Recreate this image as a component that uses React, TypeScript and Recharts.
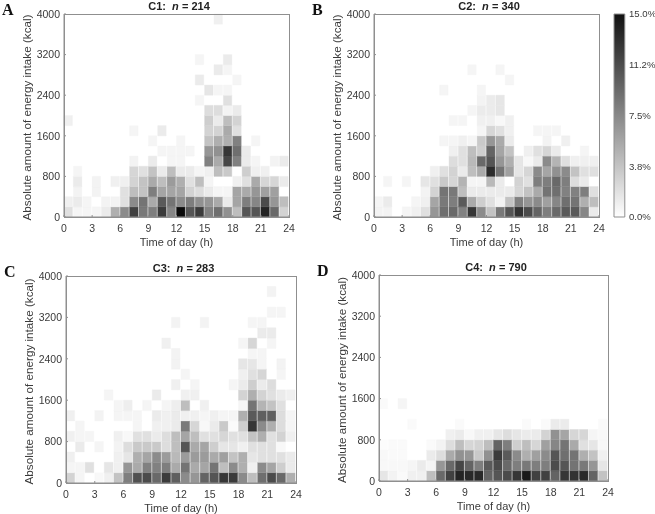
import { Bar, BarChart, Cell, XAxis, YAxis } from "recharts";

// lower edge of every 200 kcal bin, and the hour of every column
const energyBins = [0, 200, 400, 600, 800, 1000, 1200, 1400, 1600, 1800, 2000, 2200, 2400, 2600, 2800, 3000, 3200, 3400, 3600, 3800];
const hours = [0, 1, 2, 3, 4, 5, 6, 7, 8, 9, 10, 11, 12, 13, 14, 15, 16, 17, 18, 19, 20, 21, 22, 23];
const hourTicks = [0, 3, 6, 9, 12, 15, 18, 21, 24];
const energyTicks = [0, 800, 1600, 2400, 3200, 4000];
const scaleTicks = [0, 3.75, 7.5, 11.25, 15];
const scaleLabels = ["0.0%", "3.8%", "7.5%", "11.2%", "15.0%"];

// percent of meals per bin, first row is the 0-200 kcal bin
const c1Percent = [
  [1.8, 0.6, 0.6, 0.6, 1.2, 4.7, 6.8, 11.2, 7.9, 7.6, 11.5, 7.1, 14.4, 10, 11.5, 7.4, 8.5, 6.5, 3.8, 10, 10, 12.9, 8.8, 2.6],
  [0.9, 1.2, 0.6, 0, 0.7, 0.7, 1.8, 6.8, 8.2, 5, 9.7, 8.2, 6.8, 7.6, 6.5, 6.2, 5, 1.2, 5.3, 7.6, 7.1, 10.6, 6.2, 3.8],
  [0, 0.7, 0, 0.7, 0, 0, 1.8, 3.8, 3.5, 7.6, 5.3, 5.3, 5.3, 2.6, 2, 1.2, 0.6, 0.6, 5.3, 5, 6.2, 5.6, 5.6, 0],
  [0, 1.2, 0, 0.7, 0, 0.9, 0.9, 2.6, 3.5, 5, 3.8, 5.9, 4.7, 1.8, 3.8, 0.6, 0, 0, 0.9, 1.8, 5, 2.4, 2.4, 1.2],
  [0, 0.6, 0, 0, 0, 0, 0, 2.4, 1.8, 3.5, 1.2, 3.8, 1.2, 1.2, 0.6, 0.9, 3.8, 3.2, 0, 2.9, 0.9, 0.9, 0, 0],
  [0, 0, 0, 0, 0, 0, 0, 0.7, 0, 1.2, 0, 0.6, 0.6, 0, 0, 7.4, 5, 10.9, 7.4, 1.2, 0.6, 0, 0.7, 1.2],
  [0, 0, 0, 0, 0, 0, 0, 0, 0, 0, 0.6, 0.6, 0.6, 0.6, 0, 6.2, 6.5, 11.8, 8.5, 1.2, 0, 0, 0, 0],
  [0, 0, 0, 0, 0, 0, 0, 0, 0, 0.6, 0, 0, 0.6, 0, 0, 3.5, 4.7, 4.7, 7.4, 0, 0.6, 0, 0, 0],
  [0, 0, 0, 0, 0, 0, 0, 0.6, 0, 0, 1.2, 0, 0, 0, 0, 2.6, 2.6, 5, 1.8, 0, 0, 0, 0, 0],
  [0.9, 0, 0, 0, 0, 0, 0, 0, 0, 0, 0, 0, 0, 0, 0, 2.9, 1.2, 3.8, 2.6, 0, 0, 0, 0, 0],
  [0, 0, 0, 0, 0, 0, 0, 0, 0, 0, 0, 0, 0, 0, 0, 2, 2, 0.7, 1.2, 0, 0, 0, 0, 0],
  [0, 0, 0, 0, 0, 0, 0, 0, 0, 0, 0, 0, 0, 0, 0.6, 0, 0, 1.8, 0, 0, 0, 0, 0, 0],
  [0, 0, 0, 0, 0, 0, 0, 0, 0, 0, 0, 0, 0, 0, 0, 1.5, 0.6, 0.6, 0, 0, 0, 0, 0, 0],
  [0, 0, 0, 0, 0, 0, 0, 0, 0, 0, 0, 0, 0, 0, 1.2, 0, 0, 0, 0.6, 0, 0, 0, 0, 0],
  [0, 0, 0, 0, 0, 0, 0, 0, 0, 0, 0, 0, 0, 0, 0, 0, 1.2, 0.6, 0, 0, 0, 0, 0, 0],
  [0, 0, 0, 0, 0, 0, 0, 0, 0, 0, 0, 0, 0, 0, 0.6, 0, 0, 1.2, 0, 0, 0, 0, 0, 0],
  [0, 0, 0, 0, 0, 0, 0, 0, 0, 0, 0, 0, 0, 0, 0, 0, 0, 0, 0, 0, 0, 0, 0, 0],
  [0, 0, 0, 0, 0, 0, 0, 0, 0, 0, 0, 0, 0, 0, 0, 0, 0, 0, 0, 0, 0, 0, 0, 0],
  [0, 0, 0, 0, 0, 0, 0, 0, 0, 0, 0, 0, 0, 0, 0, 0, 0, 0, 0, 0, 0, 0, 0, 0],
  [0, 0, 0, 0, 0, 0, 0, 0, 0, 0, 0, 0, 0, 0, 0, 0, 0.9, 0, 0, 0, 0, 0, 0, 0],
];

const c2Percent = [
  [0.7, 0.7, 0, 0.6, 0.9, 1.8, 6.2, 8.5, 8.8, 7.4, 11.8, 6.8, 3.5, 7.9, 10, 12, 10.6, 9.1, 7.6, 8.8, 9.7, 9.7, 7.1, 1.2],
  [0.6, 1.2, 0, 0, 0.6, 0.9, 5.3, 7.9, 7.6, 9.7, 5, 2.9, 1.8, 0.7, 3.5, 7.4, 6.2, 6.8, 5.6, 7.1, 8.5, 8.2, 4.7, 3.8],
  [0, 0, 0, 0, 0, 0.7, 2.6, 8.2, 7.9, 3.8, 1.2, 1.2, 1.2, 1.2, 1.2, 2.4, 3.5, 5, 8.2, 8.5, 7.4, 7.4, 7.6, 1.8],
  [0, 0.6, 0, 0.6, 0, 1.5, 1.8, 3.2, 2.4, 4.4, 0.6, 0.6, 4.1, 1.2, 0, 2.6, 1.8, 7.6, 7.6, 8.8, 7.6, 2, 1.2, 0],
  [0, 0, 0, 0, 0, 0, 0.9, 1.8, 2.6, 1.2, 3.8, 5, 12.4, 8.2, 5.6, 1.5, 2.4, 6.8, 5.3, 6.5, 6.8, 3.5, 1.8, 1.8],
  [0, 0, 0, 0, 0, 0, 0, 0, 2, 1.8, 4.1, 8.8, 10, 6.2, 4.7, 1.5, 0.4, 1.2, 6.8, 4.4, 1.8, 0.9, 0.9, 0.9],
  [0, 0, 0, 0, 0, 0, 0, 0, 0.9, 1.8, 3.8, 2.9, 9.1, 5.3, 3.5, 0, 0.9, 1.8, 2.4, 1.2, 0, 0, 0.6, 0],
  [0, 0, 0, 0, 0, 0, 0, 0.6, 0.6, 0.9, 0.6, 3.2, 6.2, 5, 1.2, 0, 0, 0, 0.7, 0, 0.9, 0, 0, 0],
  [0, 0, 0, 0, 0, 0, 0, 0, 0, 0, 0, 0.6, 2.4, 1.8, 0.9, 0, 0, 0.6, 0.6, 0.6, 0, 0, 0, 0],
  [0, 0, 0, 0, 0, 0, 0, 0, 0.6, 0.6, 0, 0.9, 0.9, 0.4, 0.9, 0, 0, 0, 0, 0, 0, 0, 0, 0],
  [0, 0, 0, 0, 0, 0, 0, 0, 0, 0, 0.6, 1.2, 1.2, 1.5, 0, 0, 0, 0, 0, 0, 0, 0, 0, 0],
  [0, 0, 0, 0, 0, 0, 0, 0, 0, 0, 0, 0.7, 1.2, 1.5, 0, 0, 0, 0, 0, 0, 0, 0, 0, 0],
  [0, 0, 0, 0, 0, 0, 0, 0.6, 0, 0, 0, 0.6, 0, 0, 0, 0, 0, 0, 0, 0, 0, 0, 0, 0],
  [0, 0, 0, 0, 0, 0, 0, 0, 0, 0, 0, 0, 0, 0, 0.6, 0, 0, 0, 0, 0, 0, 0, 0, 0],
  [0, 0, 0, 0, 0, 0, 0, 0, 0, 0, 0.6, 0, 0, 0.6, 0, 0, 0, 0, 0, 0, 0, 0, 0, 0],
  [0, 0, 0, 0, 0, 0, 0, 0, 0, 0, 0, 0, 0, 0, 0, 0, 0, 0, 0, 0, 0, 0, 0, 0],
  [0, 0, 0, 0, 0, 0, 0, 0, 0, 0, 0, 0, 0, 0, 0, 0, 0, 0, 0, 0, 0, 0, 0, 0],
  [0, 0, 0, 0, 0, 0, 0, 0, 0, 0, 0, 0, 0, 0, 0, 0, 0, 0, 0, 0, 0, 0, 0, 0],
  [0, 0, 0, 0, 0, 0, 0, 0, 0, 0, 0, 0, 0, 0, 0, 0, 0, 0, 0, 0, 0, 0, 0, 0],
  [0, 0, 0, 0, 0, 0, 0, 0, 0, 0, 0, 0, 0, 0, 0, 0, 0, 0, 0, 0, 0, 0, 0, 0],
];

const c3Percent = [
  [2.6, 0.6, 0, 0.4, 0.9, 3.5, 7.6, 10.3, 10.6, 8.8, 11.5, 9.4, 6.8, 6.2, 9.1, 10, 11.8, 11.5, 6.8, 3.8, 8.5, 10.6, 8.8, 4.7],
  [0.6, 0.6, 1.8, 0, 1.5, 0.9, 6.2, 5, 7.4, 7.4, 7.6, 5, 8.2, 5, 5.3, 8.2, 3.8, 6.8, 4.7, 0.9, 6.8, 5.3, 2.9, 1.2],
  [0.9, 0, 0, 0, 0, 0.9, 1.5, 4.7, 5.3, 6.8, 5.9, 4.1, 5.9, 5.9, 5.9, 5, 5.6, 3.5, 4.7, 1.5, 1.8, 1.8, 1.8, 1.2],
  [0, 1.2, 0, 0.6, 0, 0.7, 2, 3.2, 3.2, 3.2, 2, 3.8, 10, 5, 5.3, 2.9, 1.5, 1.5, 0.9, 1.8, 1.8, 1.8, 0.4, 0],
  [0.9, 0.6, 0.6, 0, 0, 0.9, 0.4, 1.8, 1.8, 1.2, 2, 3.8, 5.3, 3.8, 1.8, 1.8, 2.4, 1.8, 1.8, 3.5, 4.7, 1.8, 2.6, 0.9],
  [0, 0.6, 0, 0, 0, 0, 0, 0.6, 0, 0.9, 0.9, 1.2, 7.9, 2.4, 0.4, 1.2, 3.2, 0.3, 2.9, 11.8, 6.8, 4.7, 2, 0.6],
  [0.9, 0, 0, 0.7, 0, 0.6, 0.6, 0.6, 0, 1.2, 0.9, 1.2, 0.9, 0.9, 0.6, 0.9, 0.6, 0.6, 4.7, 9.7, 9.4, 9.4, 2, 0.6],
  [0, 0, 0, 0, 0, 0.6, 1, 0, 0.6, 0, 0.6, 1, 3.8, 0, 0.9, 0, 0, 0, 0.6, 8.2, 4.4, 3.5, 1.8, 0],
  [0, 0, 0, 0, 0.6, 0, 0, 0, 0, 1.2, 0, 0, 0.9, 0.9, 0, 0, 0, 0, 2.6, 4.7, 2.6, 1.8, 1.2, 0.9],
  [0, 0, 0, 0, 0, 0, 0, 0, 0, 0, 0, 0.9, 0, 0.6, 0, 0, 0, 0.6, 1.2, 2.9, 1.2, 2, 0, 0],
  [0, 0, 0, 0, 0, 0, 0, 0, 0, 0, 0, 0, 0.6, 0, 0, 0, 0, 0, 0.9, 1.8, 2.4, 0, 0.6, 0],
  [0, 0, 0, 0, 0, 0, 0, 0, 0, 0, 0, 0.7, 0, 0, 0, 0, 0, 0, 1.5, 1.5, 0.6, 0, 0.7, 0],
  [0, 0, 0, 0, 0, 0, 0, 0, 0, 0, 0, 0.7, 0, 0, 0, 0, 0, 0, 0, 0.6, 0.6, 0, 0, 0],
  [0, 0, 0, 0, 0, 0, 0, 0, 0, 0, 0.9, 0, 0, 0, 0, 0, 0, 0, 0.6, 2.4, 0, 0.6, 0, 0],
  [0, 0, 0, 0, 0, 0, 0, 0, 0, 0, 0, 0, 0, 0, 0, 0, 0, 0, 0, 0, 1.2, 1.2, 0, 0],
  [0, 0, 0, 0, 0, 0, 0, 0, 0, 0, 0, 0.7, 0, 0, 0.7, 0, 0, 0, 0, 0.6, 0.6, 0, 0, 0],
  [0, 0, 0, 0, 0, 0, 0, 0, 0, 0, 0, 0, 0, 0, 0, 0, 0, 0, 0, 0, 0, 0.6, 0.6, 0],
  [0, 0, 0, 0, 0, 0, 0, 0, 0, 0, 0, 0, 0, 0, 0, 0, 0, 0, 0, 0, 0, 0, 0, 0],
  [0, 0, 0, 0, 0, 0, 0, 0, 0, 0, 0, 0, 0, 0, 0, 0, 0, 0, 0, 0, 0, 0.7, 0, 0],
  [0, 0, 0, 0, 0, 0, 0, 0, 0, 0, 0, 0, 0, 0, 0, 0, 0, 0, 0, 0, 0, 0, 0, 0],
];

const c4Percent = [
  [1.5, 0.7, 0.3, 0.9, 0.9, 3.8, 8.8, 11.2, 12.9, 12.6, 12.6, 9.1, 10, 10.6, 11.8, 13.5, 11.2, 11.2, 9.1, 11.8, 12, 12.6, 9.1, 3.5],
  [0.4, 0.4, 0.4, 0.6, 1.2, 0.6, 6.2, 8.8, 10.9, 9.1, 7.6, 9.7, 10.6, 8.8, 7.6, 7.9, 7.6, 7.6, 10.6, 10, 8.2, 7.9, 6.2, 1.5],
  [0.4, 0.3, 0.3, 0, 0, 1.2, 2, 5, 6.5, 6.2, 3.2, 6.5, 11.5, 9.7, 6.8, 4.7, 5.6, 6.8, 10, 8.5, 8.2, 4.7, 3.5, 0.9],
  [0.2, 0.3, 0.3, 0, 0, 0.3, 0.7, 2, 3.8, 2.4, 2.6, 3.8, 9.1, 7.6, 2.9, 3.8, 2.4, 5.6, 7.1, 8.2, 5, 1.8, 1.5, 0.4],
  [0, 0, 0, 0, 0, 0, 0, 0.9, 1.2, 0.4, 0.9, 0.9, 1.5, 2, 1.5, 1.2, 1.2, 2.6, 6.5, 5.3, 2.4, 2.4, 0.6, 0.4],
  [0, 0, 0, 0.3, 0, 0, 0, 0, 0.3, 0, 0, 0, 0, 0, 0, 0.3, 0, 0.3, 1.2, 1.2, 0, 0, 0, 0.3],
  [0, 0, 0, 0, 0, 0, 0, 0, 0, 0, 0, 0, 0, 0, 0, 0, 0, 0, 0, 0, 0, 0, 0, 0],
  [0.3, 0, 0.6, 0, 0, 0, 0, 0, 0, 0, 0, 0, 0, 0, 0, 0, 0, 0, 0, 0, 0, 0, 0, 0],
  [0, 0, 0, 0, 0, 0, 0, 0, 0, 0, 0, 0, 0, 0, 0, 0, 0, 0, 0, 0, 0, 0, 0, 0],
  [0, 0, 0, 0, 0, 0, 0, 0, 0, 0, 0, 0, 0, 0, 0, 0, 0, 0, 0, 0, 0, 0, 0, 0],
  [0, 0, 0, 0, 0, 0, 0, 0, 0, 0, 0, 0, 0, 0, 0, 0, 0, 0, 0, 0, 0, 0, 0, 0],
  [0, 0, 0, 0, 0, 0, 0, 0, 0, 0, 0, 0, 0, 0, 0, 0, 0, 0, 0, 0, 0, 0, 0, 0],
  [0, 0, 0, 0, 0, 0, 0, 0, 0, 0, 0, 0, 0, 0, 0, 0, 0, 0, 0, 0, 0, 0, 0, 0],
  [0, 0, 0, 0, 0, 0, 0, 0, 0, 0, 0, 0, 0, 0, 0, 0, 0, 0, 0, 0, 0, 0, 0, 0],
  [0, 0, 0, 0, 0, 0, 0, 0, 0, 0, 0, 0, 0, 0, 0, 0, 0, 0, 0, 0, 0, 0, 0, 0],
  [0, 0, 0, 0, 0, 0, 0, 0, 0, 0, 0, 0, 0, 0, 0, 0, 0, 0, 0, 0, 0, 0, 0, 0],
  [0, 0, 0, 0, 0, 0, 0, 0, 0, 0, 0, 0, 0, 0, 0, 0, 0, 0, 0, 0, 0, 0, 0, 0],
  [0, 0, 0, 0, 0, 0, 0, 0, 0, 0, 0, 0, 0, 0, 0, 0, 0, 0, 0, 0, 0, 0, 0, 0],
  [0, 0, 0, 0, 0, 0, 0, 0, 0, 0, 0, 0, 0, 0, 0, 0, 0, 0, 0, 0, 0, 0, 0, 0],
  [0, 0, 0, 0, 0, 0, 0, 0, 0, 0, 0, 0, 0, 0, 0, 0, 0, 0, 0, 0, 0, 0, 0, 0],
];

const FONT = "'Liberation Sans', Arial, sans-serif";
const TEXT = "#3a3a3a";
const AXIS = "#8f8f8f";
const MAX_PERCENT = 15;
const AXIS_W = 50;
const AXIS_H = 31;
const PAD = 8;
const PAD_RIGHT = 14;

const binHeight = energyBins[1] - energyBins[0];

// every bin is stacked with the same height, only its grey changes
const heatTable = hours.map((hour) => {
  const row: Record<string, number> = { hour };
  energyBins.forEach((bin) => {
    row[`bin${bin}`] = binHeight;
  });
  return row;
});

function grey(percent: number) {
  if (percent === 0) return "none";
  const g = Math.round(255 * (1 - Math.min(percent, MAX_PERCENT) / MAX_PERCENT));
  return `rgb(${g},${g},${g})`;
}

interface HeatPanelProps {
  letter: string;
  title: string;
  n: number;
  percent: number[][];
  x: number;
  y: number;
  w: number;
  h: number;
}

function HeatPanel({ letter, title, n, percent, x, y, w, h }: HeatPanelProps) {
  const tick = { fontSize: 10.5, fill: TEXT, fontFamily: FONT };
  const axisLine = { stroke: AXIS };
  return (
    <>
      <div
        style={{
          position: "absolute",
          left: x - 2.5,
          width: w + 10,
          top: y - 14.5,
          textAlign: "center",
          fontFamily: FONT,
          fontWeight: "bold",
          fontSize: 11,
          lineHeight: "13px",
          color: "#222",
          whiteSpace: "pre",
        }}
      >
        {title}:{"  "}
        <i>n</i> = {n}
      </div>
      <div
        style={{
          position: "absolute",
          left: x - 62,
          top: y - 13,
          fontFamily: "'Liberation Serif', serif",
          fontWeight: "bold",
          fontSize: 16,
          lineHeight: "18px",
          color: "#111",
        }}
      >
        {letter}
      </div>
      <div style={{ position: "absolute", left: x - AXIS_W, top: y - PAD }}>
        <BarChart
          width={w + AXIS_W + PAD_RIGHT}
          height={h + PAD + AXIS_H}
          data={heatTable}
          margin={{ top: PAD, right: PAD_RIGHT, bottom: 0, left: 0 }}
          barCategoryGap={0}
          barGap={0}
        >
          {energyBins.map((bin, rowIndex) => (
            <Bar
              key={bin}
              dataKey={`bin${bin}`}
              stackId="heat"
              xAxisId="hour"
              yAxisId="energy"
              barSize={w / hours.length}
              isAnimationActive={false}
            >
              {hours.map((hour, colIndex) => {
                const fill = grey(percent[rowIndex][colIndex]);
                return <Cell key={hour} fill={fill} stroke={fill} strokeWidth={0.4} />;
              })}
            </Bar>
          ))}
          <XAxis xAxisId="hour" dataKey="hour" type="category" height={0} hide />
          {/* recharts stretches a number axis by one band in a bar chart, the padding takes it back */}
          <XAxis
            xAxisId="time"
            type="number"
            domain={[0, 24]}
            ticks={hourTicks}
            interval={0}
            padding={{ left: 0, right: w / hours.length }}
            height={AXIS_H}
            tick={tick}
            tickSize={-2}
            tickMargin={10}
            axisLine={axisLine}
            tickLine={axisLine}
            label={{ value: "Time of day (h)", position: "insideBottom", offset: 2, style: { fontSize: 11, fill: TEXT, fontFamily: FONT } }}
          />
          <YAxis
            yAxisId="energy"
            type="number"
            domain={[0, 4000]}
            ticks={energyTicks}
            interval={0}
            width={AXIS_W}
            tick={tick}
            tickSize={-2}
            tickMargin={6}
            axisLine={axisLine}
            tickLine={axisLine}
            label={{
              value: "Absolute amount of energy intake (kcal)",
              angle: -90,
              position: "center",
              dx: -12,
              dy: 2,
              style: { fontSize: 11.7, fill: TEXT, fontFamily: FONT },
            }}
          />
        </BarChart>
      </div>
      {/* box around the plot, the dark cells must not hide it */}
      <div
        style={{
          position: "absolute",
          left: x,
          top: y,
          width: w - 1,
          height: h - 1,
          border: `1px solid ${AXIS}`,
          pointerEvents: "none",
        }}
      />
    </>
  );
}

function ScaleBar() {
  const tick = { fontSize: 9.6, fill: TEXT, fontFamily: FONT };
  return (
    <div style={{ position: "absolute", left: 613, top: 14 - PAD }}>
      <BarChart
        width={42}
        height={203 + PAD * 2}
        data={[{ name: "scale", top: MAX_PERCENT }]}
        margin={{ top: PAD, right: 0, bottom: PAD, left: 0 }}
        barCategoryGap={0}
      >
        <defs>
          <linearGradient id="scaleGrey" x1="0" y1="0" x2="0" y2="1">
            <stop offset="0%" stopColor="#111" />
            <stop offset="100%" stopColor="#fff" />
          </linearGradient>
        </defs>
        <Bar dataKey="top" fill="url(#scaleGrey)" stroke={AXIS} barSize={12} isAnimationActive={false} />
        <XAxis dataKey="name" height={0} hide />
        <YAxis
          orientation="right"
          type="number"
          domain={[0, MAX_PERCENT]}
          ticks={scaleTicks}
          interval={0}
          width={30}
          tick={tick}
          tickSize={0}
          tickMargin={4}
          axisLine={false}
          tickFormatter={(v: number) => scaleLabels[scaleTicks.indexOf(v)]}
        />
      </BarChart>
    </div>
  );
}

export default function App() {
  return (
    <div
      style={{
        position: "absolute",
        left: 0,
        top: 0,
        width: 655,
        height: 514,
        background: "#fff",
        overflow: "hidden",
        filter: "blur(0.55px)",
      }}
    >
      <HeatPanel letter="A" title="C1" n={214} percent={c1Percent} x={64} y={14} w={225} h={203} />
      <HeatPanel letter="B" title="C2" n={340} percent={c2Percent} x={374} y={14} w={225} h={203} />
      <HeatPanel letter="C" title="C3" n={283} percent={c3Percent} x={66} y={276} w={230} h={207} />
      <HeatPanel letter="D" title="C4" n={790} percent={c4Percent} x={379} y={275} w={229} h={206} />
      <ScaleBar />
    </div>
  );
}
